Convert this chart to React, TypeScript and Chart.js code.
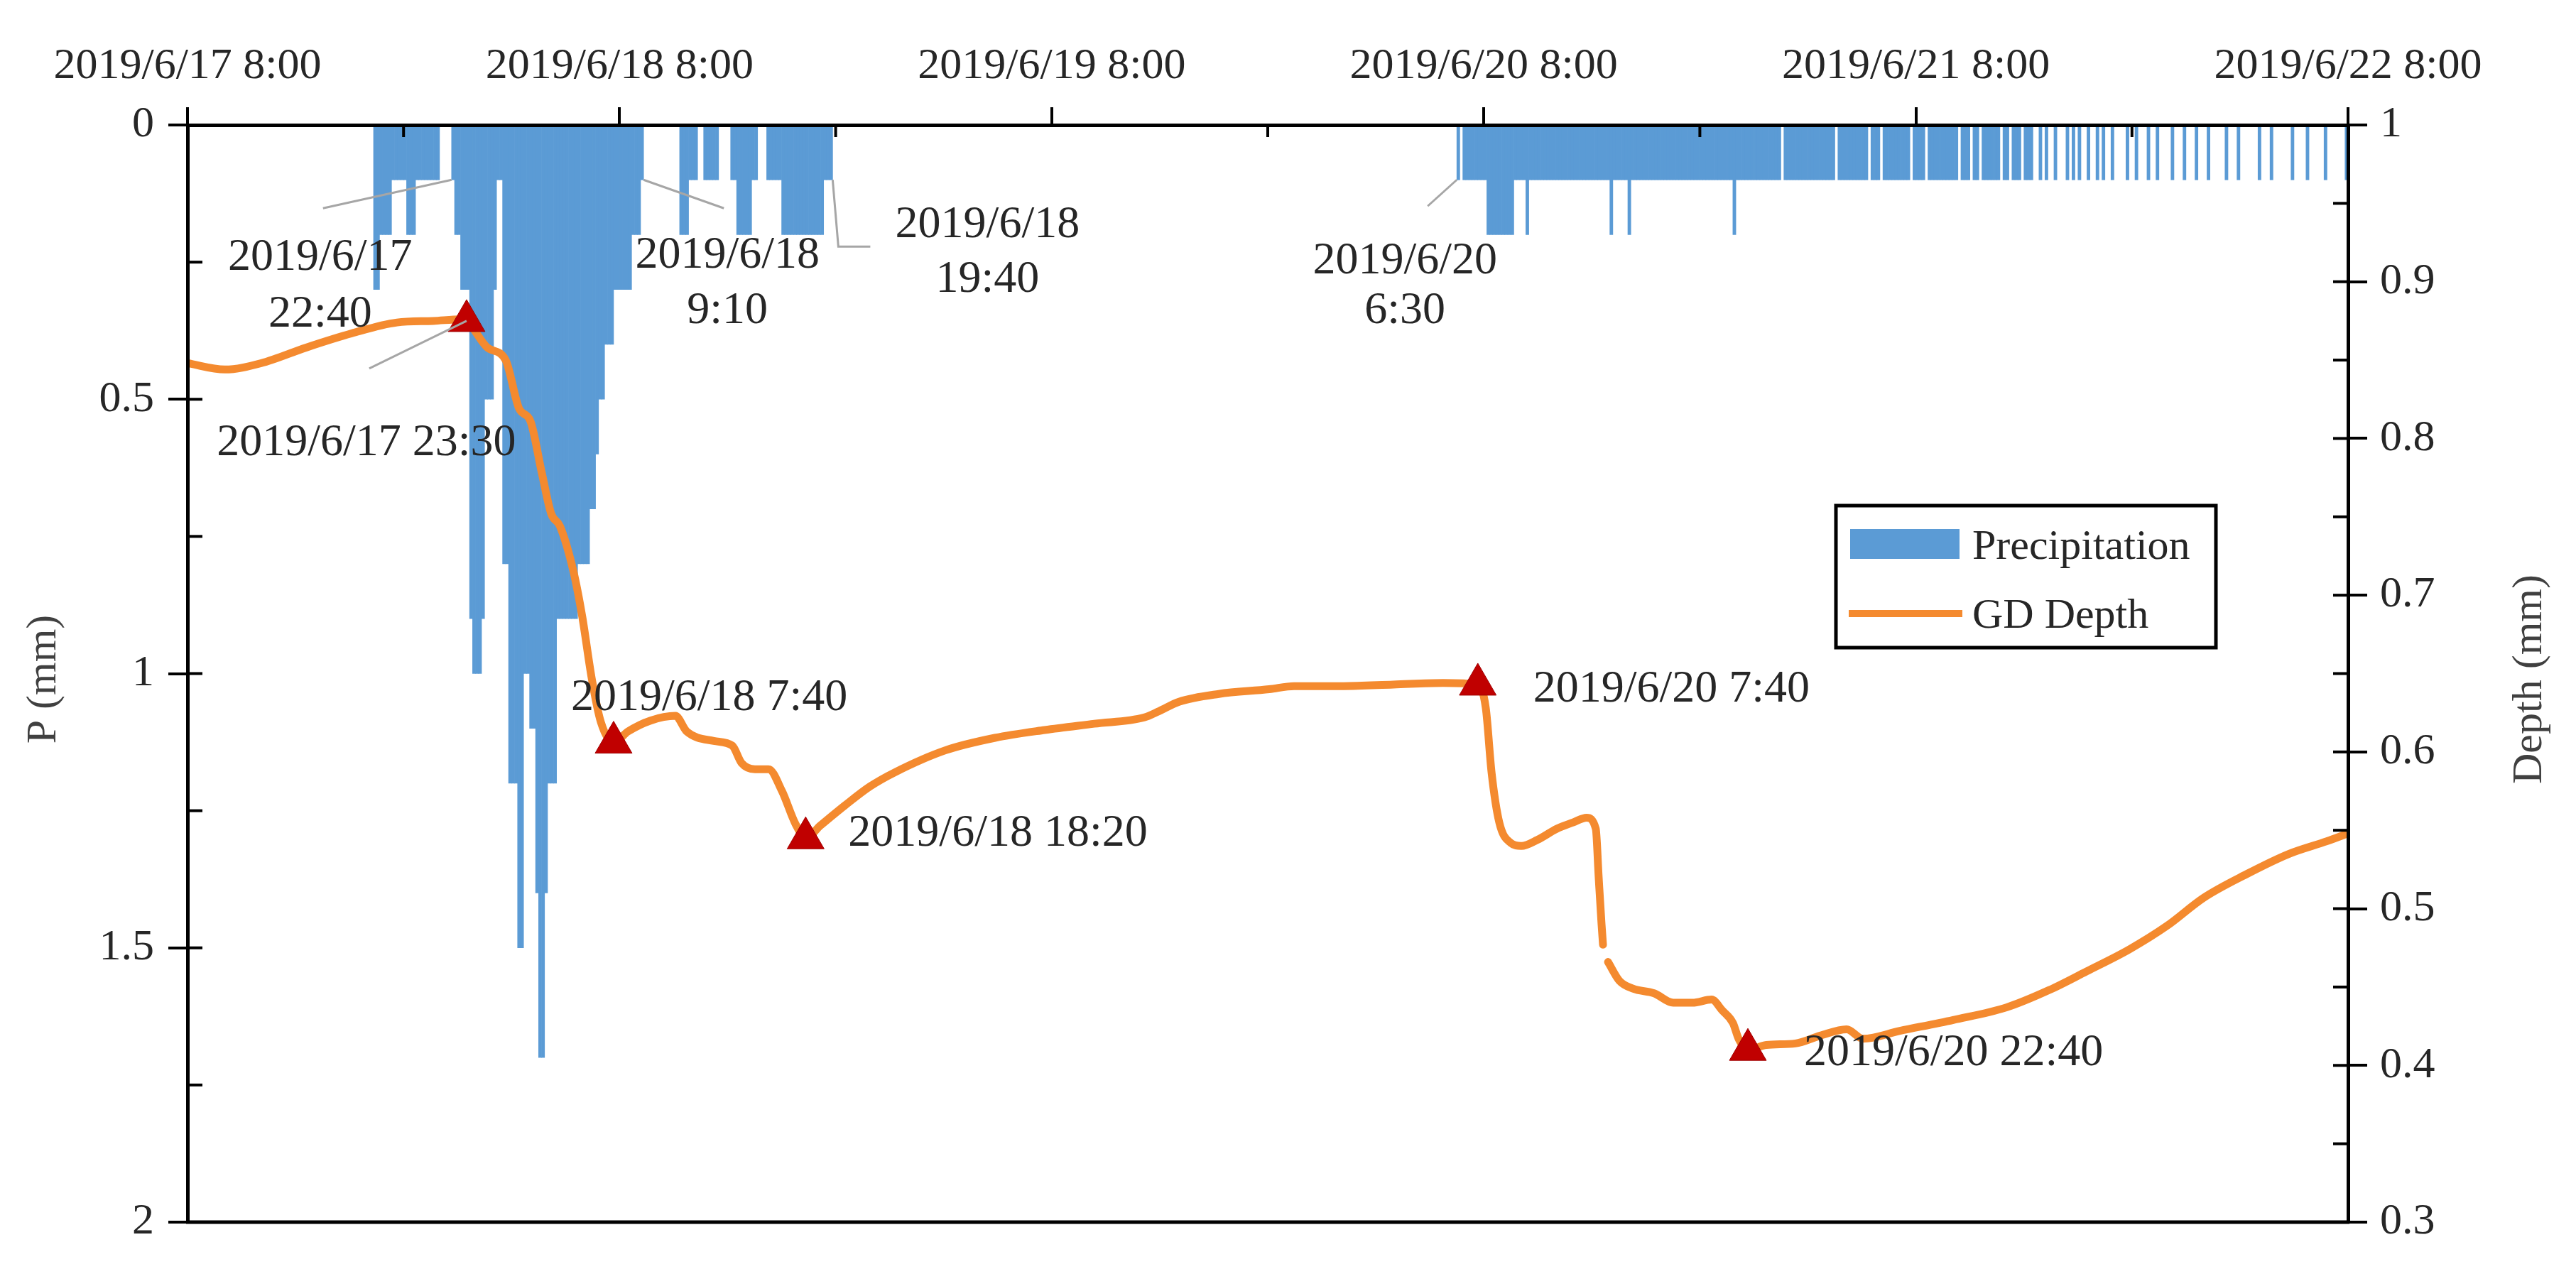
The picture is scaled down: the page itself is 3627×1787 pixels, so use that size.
import React, { useEffect, useRef } from 'react';
import { Chart, registerables } from 'chart.js';

Chart.register(...registerables);

const W = 3627;
const H = 1787;
const FONT = '"Liberation Serif", "Times New Roman", Times, serif';

// ---------------- DATA ----------------
// Top axis tick labels (one per day, the axis runs in hours after 2019/6/17 8:00)
const xTickLabels = ['2019/6/17 8:00', '2019/6/18 8:00', '2019/6/19 8:00', '2019/6/20 8:00', '2019/6/21 8:00', '2019/6/22 8:00'];
const pTickValues = [0, 0.5, 1, 1.5, 2];
const depthTickValues = [0.3, 0.4, 0.5, 0.6, 0.7, 0.8, 0.9, 1];

// Precipitation, 10-minute steps, values in units of 0.1 mm
const rainEventStarts = ['6/17 18:20', '6/17 22:40', '6/18 11:20', '6/20 6:30'];
const rainEvent1 = [3, 3, 2, 2, 2, 2, 1, 1, 1, 1, 1, 2, 2, 2, 1, 1, 1, 1, 1, 1, 1, 1];
const rainEvent2 = [1, 2, 2, 3, 3, 3, 9, 10, 10, 10, 9, 5, 5, 5, 3, 1, 1, 8, 8, 12, 12, 12, 15, 15, 10, 10, 11, 11, 14, 17, 17, 14, 12, 12, 12,
  9, 9, 9, 9, 9, 9, 9, 8, 8, 8, 8, 7, 7, 6, 5, 5, 4, 4, 4, 3, 3, 3, 3, 3, 3, 2, 2, 2, 1];
const rainEvent3 = [2, 2, 2, 1, 1, 1, 0, 0, 1, 1, 1, 1, 1, 0, 0, 0, 0, 1, 1, 2, 2, 2, 2, 2, 1, 1, 0, 0, 0, 1, 1, 1, 1, 1,
  2, 2, 2, 2, 2, 2, 2, 2, 2, 2, 2, 2, 2, 2, 1, 1, 1];
// last event as runs: [number of 10-min steps, value in 0.1 mm]
const rainEvent4Runs = [
  [1, 1], [1, 0], [8, 1], [9, 2], [4, 1], [1, 2], [27, 1], [1, 2], [5, 1], [1, 2], [34, 1], [1, 2], [15, 1], [1, 0], [17, 1], [1, 0],
  [10, 1], [1, 0], [3, 1], [1, 0], [9, 1], [1, 0], [4, 1], [1, 0], [10, 1], [1, 0], [3, 1], [1, 0], [2, 1], [1, 0], [6, 1], [1, 0],
  [2, 1], [1, 0], [3, 1], [1, 0], [3, 1],
  [2, 0], [1, 1], [1, 0], [1, 1], [2, 0], [1, 1], [3, 0], [1, 1], [1, 0], [1, 1], [1, 0], [1, 1], [2, 0], [1, 1], [2, 0], [1, 1],
  [1, 0], [1, 1], [2, 0], [1, 1], [4, 0], [1, 1], [2, 0], [1, 1], [3, 0], [1, 1], [2, 0], [1, 1], [4, 0], [1, 1], [3, 0], [1, 1],
  [3, 0], [1, 1], [3, 0], [1, 1], [5, 0], [1, 1], [3, 0], [1, 1], [6, 0], [1, 1], [3, 0], [1, 1], [6, 0], [1, 1], [4, 0], [1, 1],
  [5, 0], [1, 1], [6, 0], [1, 1],
];

// GD depth (mm); time in hours after 2019/6/17 8:00 (null = gap in the record)
const depthHours = [0, 2.07, 4.08, 6.59, 9.11, 11.64, 13.65, 15.15, 15.5, 16.65, 17.67, 18.42, 19.05, 19.68, 20.2, 20.69, 21.44, 21.93,
  22.45, 22.96, 23.667, 24.46, 25.72, 27.1, 27.73, 29.23, 30.26, 30.77, 31.52, 32.27, 33.02, 33.77, 34.333, 35.15, 36.53, 37.91,
  39.29, 42.09, 44.85, 47.61, 50.37, 53.14, 53.96, 55.07, 57.28, 60.08, 61.46, 64.22, 66.98, 69.74, 71.667, 72.11, 72.43, 72.86,
  73.49, 74.08, 74.99, 76.06, 76.96, 77.71, 78.22, 78.38, 78.54, 78.62, 78.76, 78.9, 79.53, 80.28, 81.46, 82.52, 83.59, 84.65,
  85.25, 85.84, 86.15, 86.667, 87.69, 89.31, 90.69, 92.15, 93.06, 95.11, 98.07, 101.03, 103.39, 105.48, 107.85, 109.94, 111.99,
  114.36, 116.73, 118.82, 120];
const depthValues = [0.848, 0.844, 0.848, 0.858, 0.867, 0.874, 0.875, 0.876, 0.875, 0.858, 0.85, 0.819, 0.811, 0.778, 0.752, 0.744,
  0.715, 0.686, 0.647, 0.619, 0.606, 0.613, 0.62, 0.623, 0.613, 0.607, 0.604, 0.593, 0.589, 0.589, 0.575, 0.554, 0.545, 0.553,
  0.566, 0.578, 0.587, 0.601, 0.609, 0.614, 0.618, 0.622, 0.626, 0.632, 0.637, 0.64, 0.642, 0.642, 0.643, 0.644, 0.643, 0.628,
  0.587, 0.555, 0.542, 0.54, 0.544, 0.551, 0.555, 0.558, 0.551, 0.52, 0.49, 0.477, null, 0.466, 0.454, 0.449, 0.446, 0.44, 0.44,
  0.442, 0.435, 0.427, 0.417, 0.41, 0.413, 0.414, 0.419, 0.423, 0.417, 0.422, 0.429, 0.437, 0.448, 0.46, 0.474, 0.489, 0.507,
  0.522, 0.535, 0.543, 0.548];

// Key points (red triangles)
const markerTimes = ['6/17 23:30', '6/18 7:40', '6/18 18:20', '6/20 7:40', '6/20 22:40'];
const markerDepths = [0.875, 0.606, 0.545, 0.643, 0.41];
const markerNoteTexts = ['2019/6/17 23:30', '2019/6/18 7:40', '2019/6/18 18:20', '2019/6/20 7:40', '2019/6/20 22:40'];

// Rain start / end notes (anchored at a bar edge)
const rainNoteTimes = ['6/17 22:40', '6/18 9:20', '6/18 19:50', '6/20 6:30'];
const rainNoteTexts = [['2019/6/17', '22:40'], ['2019/6/18', '9:10'], ['2019/6/18', '19:40'], ['2019/6/20', '6:30']];

// ---------------- STYLE / LAYOUT ----------------
const BLUE = '#5B9BD5';
const ORANGE = '#F48A2F';
const RED = '#C00000';
const TEXT = '#262626';
const LEADER = '#A6A6A6';
const AREA = { left: 264, right: 3306, top: 176, bottom: 1721 };

const rainNoteLayout = [
  { leader: [[-181, 40]], dx: -185, baselines: [127, 207] },
  { leader: [[113, 40]], dx: 118, baselines: [124, 202] },
  { leader: [[8, 94], [53, 94]], dx: 218, baselines: [81, 158] },
  { leader: [[-41, 37]], dx: -73, baselines: [132, 202] },
];
const markerNoteLayout = [
  { leader: [[-137, 67]], dx: -141, align: 'center', baseline: 189 },
  { dx: -60, align: 'left', baseline: -46 },
  { dx: 60, align: 'left', baseline: 11 },
  { dx: 78, align: 'left', baseline: 24 },
  { dx: 79, align: 'left', baseline: 22 },
];
const LEGEND = { left: 2585, top: 712, right: 3120, bottom: 912 };

function toHours(s: string) {
  const [md, hm] = s.split(' ');
  const day = Number(md.split('/')[1]);
  const [h, m] = hm.split(':').map(Number);
  return (day - 17) * 24 + (h - 8) + m / 60;
}

function buildRain() {
  const pts: { x: number; y: number }[] = [];
  const events = [rainEvent1, rainEvent2, rainEvent3];
  const push = (start: number, i: number, v: number) => {
    if (v > 0) pts.push({ x: start + i / 6 + 1 / 12, y: v / 10 });
  };
  events.forEach((vals, e) => {
    const start = toHours(rainEventStarts[e]);
    vals.forEach((v, i) => push(start, i, v));
  });
  const s4 = toHours(rainEventStarts[3]);
  let idx = 0;
  rainEvent4Runs.forEach(([n, v]) => {
    for (let k = 0; k < n; k++) push(s4, idx++, v);
  });
  return pts;
}

const overlayPlugin = {
  id: 'overlay',
  afterDraw(chart: any) {
    const { ctx, chartArea: ca, scales } = chart;
    const xs = scales.x, yp = scales.y, yd = scales.y1;
    ctx.save();
    // frame bottom
    ctx.strokeStyle = '#000';
    ctx.lineWidth = 5;
    ctx.beginPath();
    ctx.moveTo(ca.left - 2, ca.bottom);
    ctx.lineTo(ca.right + 2, ca.bottom);
    ctx.stroke();
    // inward ticks
    ctx.lineWidth = 4;
    const hline = (x0: number, x1: number, y: number) => { ctx.beginPath(); ctx.moveTo(x0, y); ctx.lineTo(x1, y); ctx.stroke(); };
    for (let v = 0; v <= 2.0001; v += 0.25) hline(ca.left, ca.left + 21, yp.getPixelForValue(v));
    for (let v = 0.3; v <= 1.0001; v += 0.05) hline(ca.right - 21, ca.right, yd.getPixelForValue(v));
    for (let h = 12; h < 120; h += 24) {
      const x = xs.getPixelForValue(h);
      ctx.beginPath(); ctx.moveTo(x, ca.top); ctx.lineTo(x, ca.top + 17); ctx.stroke();
    }

    // notes
    ctx.font = `64px ${FONT}`;
    ctx.fillStyle = TEXT;
    ctx.textBaseline = 'alphabetic';
    const leader = (ax: number, ay: number, pts: number[][]) => {
      ctx.save();
      ctx.strokeStyle = LEADER;
      ctx.lineWidth = 3;
      ctx.beginPath();
      ctx.moveTo(ax, ay);
      pts.forEach(([dx, dy]) => ctx.lineTo(ax + dx, ay + dy));
      ctx.stroke();
      ctx.restore();
    };
    rainNoteTimes.forEach((t, i) => {
      const ax = xs.getPixelForValue(toHours(t));
      const ay = yp.getPixelForValue(0.1);
      const L = rainNoteLayout[i];
      leader(ax, ay, L.leader);
      ctx.textAlign = 'center';
      rainNoteTexts[i].forEach((line, j) => ctx.fillText(line, ax + L.dx, ay + L.baselines[j]));
    });
    markerTimes.forEach((t, i) => {
      const ax = xs.getPixelForValue(toHours(t));
      const ay = yd.getPixelForValue(markerDepths[i]);
      const L: any = markerNoteLayout[i];
      if (L.leader) leader(ax, ay, L.leader);
      ctx.textAlign = L.align;
      ctx.fillText(markerNoteTexts[i], ax + L.dx, ay + L.baseline);
    });

    // axis titles
    ctx.fillStyle = '#404040';
    ctx.font = `60px ${FONT}`;
    ctx.textAlign = 'center';
    ctx.textBaseline = 'middle';
    const cy = (ca.top + ca.bottom) / 2 + 8;
    [[62, 'P (mm)'], [3562, 'Depth (mm)']].forEach(([x, s]: any) => {
      ctx.save();
      ctx.translate(x, cy);
      ctx.rotate(-Math.PI / 2);
      ctx.fillText(s, 0, 0);
      ctx.restore();
    });

    // legend
    ctx.fillStyle = '#fff';
    ctx.fillRect(LEGEND.left, LEGEND.top, LEGEND.right - LEGEND.left, LEGEND.bottom - LEGEND.top);
    ctx.strokeStyle = '#000';
    ctx.lineWidth = 5;
    ctx.strokeRect(LEGEND.left, LEGEND.top, LEGEND.right - LEGEND.left, LEGEND.bottom - LEGEND.top);
    const ds = chart.data.datasets;
    ctx.fillStyle = ds[2].backgroundColor;
    ctx.fillRect(LEGEND.left + 20, LEGEND.top + 33, 154, 42);
    ctx.strokeStyle = ds[1].borderColor;
    ctx.lineWidth = 10;
    ctx.beginPath();
    ctx.moveTo(LEGEND.left + 18, LEGEND.top + 152);
    ctx.lineTo(LEGEND.left + 178, LEGEND.top + 152);
    ctx.stroke();
    ctx.fillStyle = TEXT;
    ctx.font = `60px ${FONT}`;
    ctx.textAlign = 'left';
    ctx.textBaseline = 'alphabetic';
    ctx.fillText(ds[2].label, LEGEND.left + 192, LEGEND.top + 75);
    ctx.fillText(ds[1].label, LEGEND.left + 192, LEGEND.top + 172);
    ctx.restore();
  },
};

export default function App() {
  const ref = useRef<HTMLCanvasElement>(null);
  useEffect(() => {
    const canvas = ref.current!;
    const rain = buildRain();
    const depth = depthHours.map((h, i) => ({ x: h, y: depthValues[i] }));
    const markers = markerTimes.map((t, i) => ({ x: toHours(t), y: markerDepths[i] }));
    const tickFont = { family: FONT, size: 62 };
    const grid = { display: true, drawOnChartArea: false, drawTicks: true, offset: false, color: '#000', lineWidth: 4 };
    const border = { display: true, color: '#000', width: 5 };
    const chart = new Chart(canvas, {
      type: 'line',
      data: {
        datasets: [
          {
            type: 'line', label: 'Triangles', data: markers, xAxisID: 'x', yAxisID: 'y1', showLine: false,
            pointStyle: 'triangle', pointRadius: 30, pointBackgroundColor: RED, pointBorderColor: '#A00000', pointBorderWidth: 1, order: 1,
          } as any,
          {
            type: 'line', label: 'GD Depth', data: depth, xAxisID: 'x', yAxisID: 'y1', borderColor: ORANGE, borderWidth: 11,
            pointRadius: 0, cubicInterpolationMode: 'monotone', spanGaps: false, fill: false, borderCapStyle: 'round',
            borderJoinStyle: 'round', order: 2,
          } as any,
          {
            type: 'bar', label: 'Precipitation', data: rain, xAxisID: 'x', yAxisID: 'y', backgroundColor: BLUE, borderWidth: 0,
            barPercentage: 1, categoryPercentage: 1, grouped: false, order: 3,
          } as any,
        ],
      },
      options: {
        responsive: false,
        animation: false,
        events: [],
        layout: { padding: { left: 0, right: 0, top: 0, bottom: H - AREA.bottom } },
        plugins: { legend: { display: false }, tooltip: { enabled: false } },
        scales: {
          x: {
            type: 'linear', position: 'top', min: 0, max: 120, offset: false,
            afterFit: (s: any) => { s.height = AREA.top; },
            afterBuildTicks: (s: any) => { s.ticks = xTickLabels.map((_, i) => ({ value: i * 24 })); },
            ticks: {
              callback: (_v: any, i: number) => xTickLabels[i], font: tickFont, color: TEXT, padding: 20,
              maxRotation: 0, minRotation: 0, autoSkip: false, z: 1,
            },
            grid: { ...grid, tickLength: 25 },
            border: { ...border, z: 1 },
          },
          y: {
            type: 'linear', position: 'left', reverse: true, min: 0, max: 2,
            afterFit: (s: any) => { s.width = AREA.left; },
            afterBuildTicks: (s: any) => { s.ticks = pTickValues.map((v) => ({ value: v })); },
            ticks: { callback: (v: any) => String(v), font: tickFont, color: TEXT, padding: 20, z: 1 },
            grid: { ...grid, tickLength: 27 },
            border: { ...border, z: 1 },
          },
          y1: {
            type: 'linear', position: 'right', min: 0.3, max: 1,
            afterFit: (s: any) => { s.width = W - AREA.right; },
            afterBuildTicks: (s: any) => { s.ticks = depthTickValues.map((v) => ({ value: v })); },
            ticks: { callback: (v: any) => String(+Number(v).toFixed(2)), font: tickFont, color: TEXT, padding: 18, z: 1 },
            grid: { ...grid, tickLength: 27 },
            border: { ...border, z: 1 },
          },
        },
      } as any,
      plugins: [overlayPlugin],
    });
    return () => chart.destroy();
  }, []);
  return (
    <div style={{ position: 'absolute', left: 0, top: 0, width: W, height: H, background: '#fff' }}>
      <canvas ref={ref} width={W} height={H} style={{ display: 'block', width: W, height: H }} />
    </div>
  );
}
